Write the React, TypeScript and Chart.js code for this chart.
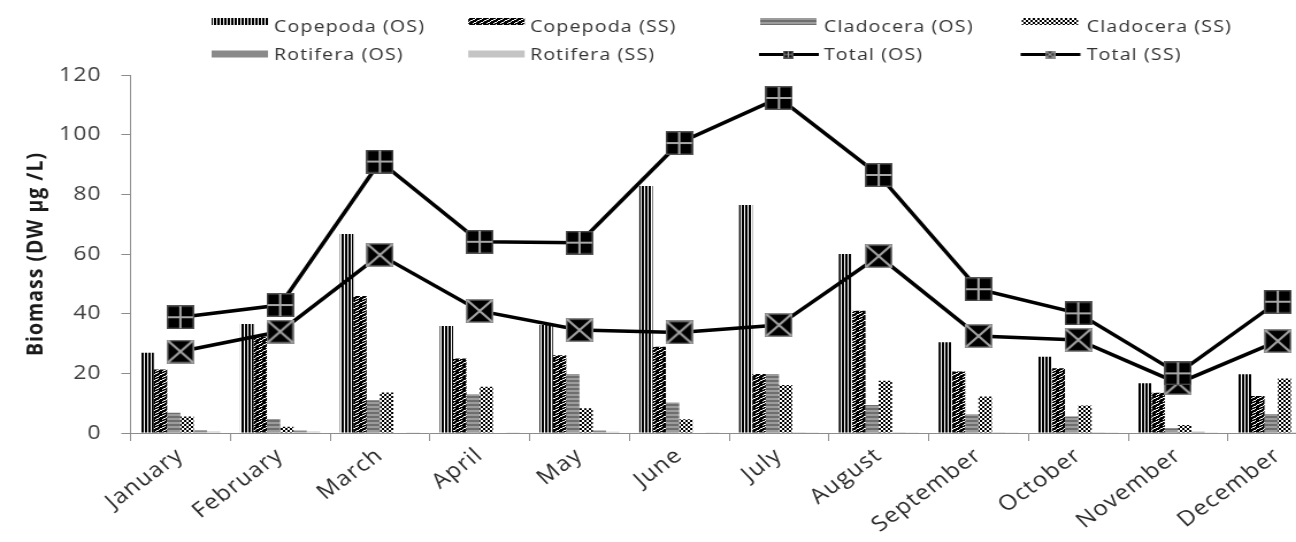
import React, { useEffect, useRef } from 'react';
import { Chart, registerables } from 'chart.js';

Chart.register(...registerables);

// ---------------- data ----------------
const months = ['January', 'February', 'March', 'April', 'May', 'June', 'July', 'August', 'September', 'October', 'November', 'December'];
const copepodaOS = [26.9, 36.5, 66.7, 35.9, 36.2, 82.8, 76.4, 60.0, 30.4, 25.6, 16.7, 19.7];
const copepodaSS = [21.3, 32.3, 45.9, 25.0, 26.1, 28.9, 19.8, 41.0, 20.6, 21.7, 13.5, 12.4];
const cladoceraOS = [6.8, 4.7, 11.0, 13.0, 19.8, 10.2, 19.8, 9.4, 6.3, 5.5, 1.6, 6.4];
const cladoceraSS = [5.5, 2.1, 13.6, 15.5, 8.3, 4.6, 16.1, 17.5, 12.2, 9.2, 2.7, 18.3];
const rotiferaOS = [0.9, 0.8, 0.2, 0.2, 0.8, 0.2, 0.1, 0.1, 0.1, 0.1, 0.4, 0.1];
const rotiferaSS = [0.5, 0.5, 0.1, 0.1, 0.4, 0.1, 0.1, 0.1, 0.1, 0.1, 0.1, 0.1];
const totalOS = [38.8, 42.9, 91.0, 64.1, 63.8, 97.2, 112.3, 86.5, 48.2, 40.1, 20.0, 44.0];
const totalSS = [27.3, 34.0, 59.7, 40.9, 34.5, 33.7, 36.2, 59.3, 32.5, 31.2, 16.7, 30.8];
const yTicks = [0, 20, 40, 60, 80, 100, 120];
const yTitle = 'Biomass (DW µg /L)';
const legendLabels = ['Copepoda (OS)', 'Copepoda (SS)', 'Cladocera (OS)', 'Cladocera (SS)', 'Rotifera (OS)', 'Rotifera (SS)', 'Total (OS)', 'Total (SS)'];

// ---------------- drawing helpers ----------------
const SX = 1.15;
const CW = 1170;
const CH = 542;
const FONT = "'Open Sans', 'DejaVu Sans', sans-serif";

function tile(w: number, h: number, draw: (g: CanvasRenderingContext2D) => void) {
  const c = document.createElement('canvas');
  c.width = w;
  c.height = h;
  const g = c.getContext('2d') as CanvasRenderingContext2D;
  draw(g);
  return c;
}

function pattern(c: HTMLCanvasElement) {
  const g = document.createElement('canvas').getContext('2d') as CanvasRenderingContext2D;
  return g.createPattern(c, 'repeat') as CanvasPattern;
}

function makeFills() {
  const copOS = pattern(tile(3, 2, (g) => {
    g.fillStyle = '#000'; g.fillRect(0, 0, 3, 2);
    g.fillStyle = '#fff'; g.fillRect(2, 0, 1, 2);
  }));
  const copSS = pattern(tile(6, 6, (g) => {
    g.fillStyle = '#000'; g.fillRect(0, 0, 6, 6);
    g.fillStyle = '#fff';
    const px = [[0, 3], [1, 2], [2, 2], [3, 1], [4, 1], [5, 0], [3, 5], [4, 4], [5, 4]];
    px.forEach(([x, y]) => g.fillRect(x, y, 1, 1));
  }));
  const cladOS = pattern(tile(2, 4, (g) => {
    g.fillStyle = '#6e6e6e'; g.fillRect(0, 0, 2, 2);
    g.fillStyle = '#9c9c9c'; g.fillRect(0, 2, 2, 2);
  }));
  const cladSS = pattern(tile(4, 4, (g) => {
    g.fillStyle = '#fff'; g.fillRect(0, 0, 4, 4);
    g.fillStyle = '#000'; g.fillRect(0, 0, 2, 2); g.fillRect(2, 2, 2, 2);
  }));
  return { copOS, copSS, cladOS, cladSS, rotOS: '#8a8a8a', rotSS: '#c4c4c4' };
}

function makeMarker(kind: 'plus' | 'x', w: number, h: number) {
  return tile(w, h, (g) => {
    g.fillStyle = '#000';
    g.fillRect(0, 0, w, h);
    g.strokeStyle = kind === 'x' ? '#8a8a8a' : '#555';
    g.lineWidth = 1.5;
    g.strokeRect(0.75, 0.75, w - 1.5, h - 1.5);
    g.strokeStyle = '#a8a8a8';
    g.lineWidth = Math.max(1.2, w / 12);
    g.beginPath();
    if (kind === 'plus') {
      g.moveTo(w / 2, 1); g.lineTo(w / 2, h - 1);
      g.moveTo(1, h / 2); g.lineTo(w - 1, h / 2);
    } else {
      g.moveTo(1, 1); g.lineTo(w - 1, h - 1);
      g.moveTo(w - 1, 1); g.lineTo(1, h - 1);
    }
    g.stroke();
  });
}

export default function App() {
  const ref = useRef<HTMLCanvasElement | null>(null);

  useEffect(() => {
    const canvas = ref.current;
    if (!canvas) return;
    const fills = makeFills();
    const markOS = makeMarker('plus', 24, 24);
    const markSS = makeMarker('x', 24, 24);
    const miniOS = makeMarker('plus', 9, 8);
    const miniSS = makeMarker('x', 9, 8);

    const spacing = {
      id: 'spacing',
      beforeLayout(chart: any) { chart.ctx.letterSpacing = '1px'; },
      beforeDraw(chart: any) {
        const ctx = chart.ctx;
        ctx.letterSpacing = '1px';
        ctx.save();
        ctx.fillStyle = '#fff';
        ctx.fillRect(0, 0, chart.width, chart.height);
        ctx.restore();
      },
    };

    const legendCols = [
      { sw: 184, tx: 238.3 },
      { sw: 407.2, tx: 460.9 },
      { sw: 661, tx: 716.5 },
      { sw: 888.5, tx: 945 },
    ];
    const legendRows = [{ top: 18, base: 32 }, { top: 50.5, base: 60 }];
    const legendFills: any[] = [fills.copOS, fills.copSS, fills.cladOS, fills.cladSS, fills.rotOS, fills.rotSS, 'lineOS', 'lineSS'];

    const customLegend = {
      id: 'customLegend',
      afterDraw(chart: any) {
        const ctx = chart.ctx as CanvasRenderingContext2D;
        ctx.save();
        (ctx as any).letterSpacing = '1px';
        ctx.font = `17px ${FONT}`;
        ctx.textBaseline = 'alphabetic';
        ctx.textAlign = 'left';
        legendLabels.forEach((label, i) => {
          const col = legendCols[i % 4];
          const row = legendRows[Math.floor(i / 4)];
          const f = legendFills[i];
          const swW = 49;
          if (f === 'lineOS' || f === 'lineSS') {
            const cy = row.top + 4;
            ctx.strokeStyle = '#000';
            ctx.lineWidth = 3;
            ctx.beginPath();
            ctx.moveTo(col.sw - 1, cy);
            ctx.lineTo(col.sw + swW + 2, cy);
            ctx.stroke();
            const m = f === 'lineOS' ? miniOS : miniSS;
            ctx.drawImage(m, col.sw + swW / 2 - m.width / 2, cy - m.height / 2);
          } else {
            ctx.fillStyle = f;
            ctx.fillRect(col.sw, row.top, swW, 7);
          }
          ctx.fillStyle = '#333333';
          ctx.fillText(label, col.tx, row.base);
        });
        ctx.restore();
      },
    };

    const chart = new Chart(canvas, {
      type: 'bar',
      data: {
        labels: months,
        datasets: [
          {
            type: 'line', label: 'Total (OS)', data: totalOS, order: 0,
            borderColor: '#000', backgroundColor: '#000', borderWidth: 3.5, tension: 0,
            pointStyle: markOS as any, pointRadius: 12, pointHoverRadius: 12,
          },
          {
            type: 'line', label: 'Total (SS)', data: totalSS, order: 0,
            borderColor: '#000', backgroundColor: '#000', borderWidth: 3.5, tension: 0,
            pointStyle: markSS as any, pointRadius: 12, pointHoverRadius: 12,
          },
          { label: 'Copepoda (OS)', data: copepodaOS, order: 1, backgroundColor: fills.copOS as any, borderWidth: 0 },
          { label: 'Copepoda (SS)', data: copepodaSS, order: 1, backgroundColor: fills.copSS as any, borderWidth: 0 },
          { label: 'Cladocera (OS)', data: cladoceraOS, order: 1, backgroundColor: fills.cladOS as any, borderWidth: 0 },
          { label: 'Cladocera (SS)', data: cladoceraSS, order: 1, backgroundColor: fills.cladSS as any, borderWidth: 0 },
          { label: 'Rotifera (OS)', data: rotiferaOS, order: 1, backgroundColor: fills.rotOS, borderWidth: 0 },
          { label: 'Rotifera (SS)', data: rotiferaSS, order: 1, backgroundColor: fills.rotSS, borderWidth: 0 },
        ] as any,
      },
      options: {
        responsive: false,
        animation: false,
        devicePixelRatio: 1,
        events: [],
        datasets: { bar: { categoryPercentage: 0.8, barPercentage: 1.0 } },
        layout: { padding: { top: 75, right: 11, left: 0, bottom: 0 } },
        plugins: { legend: { display: false }, tooltip: { enabled: false }, title: { display: false } },
        scales: {
          x: {
            grid: { display: true, drawOnChartArea: false, drawTicks: true, tickLength: 8, color: '#8c8c8c', offset: true },
            border: { display: true, color: '#8c8c8c', width: 1 },
            ticks: { minRotation: 40, maxRotation: 40, autoSkip: false, color: '#2b2b2b', padding: 2, font: { family: FONT, size: 21 } },
            afterFit: (s: any) => { s.height = 109; },
          },
          y: {
            min: 0, max: 120,
            afterBuildTicks: (s: any) => { s.ticks = yTicks.map((v) => ({ value: v })); },
            ticks: { color: '#404040', padding: 17, font: { family: FONT, size: 20 } },
            grid: { display: true, drawOnChartArea: false, drawTicks: true, tickLength: 8, color: '#8c8c8c' },
            border: { display: true, color: '#8c8c8c', width: 1 },
            title: { display: true, text: yTitle, color: '#1a1a1a', font: { family: FONT, size: 19.5, weight: 'bold' }, padding: { top: 20, bottom: 0 } },
            afterFit: (s: any) => { s.width = 113.5; },
          },
        },
      } as any,
      plugins: [spacing, customLegend],
    });

    return () => { chart.destroy(); };
  }, []);

  return (
    <div style={{ position: 'fixed', left: 0, top: 0, width: 1296, height: 542, overflow: 'hidden', background: '#fff' }}>
      <canvas
        ref={ref}
        width={CW}
        height={CH}
        style={{ display: 'block', width: CW, height: CH, transform: `scaleX(${SX})`, transformOrigin: '0 0' }}
      />
    </div>
  );
}
